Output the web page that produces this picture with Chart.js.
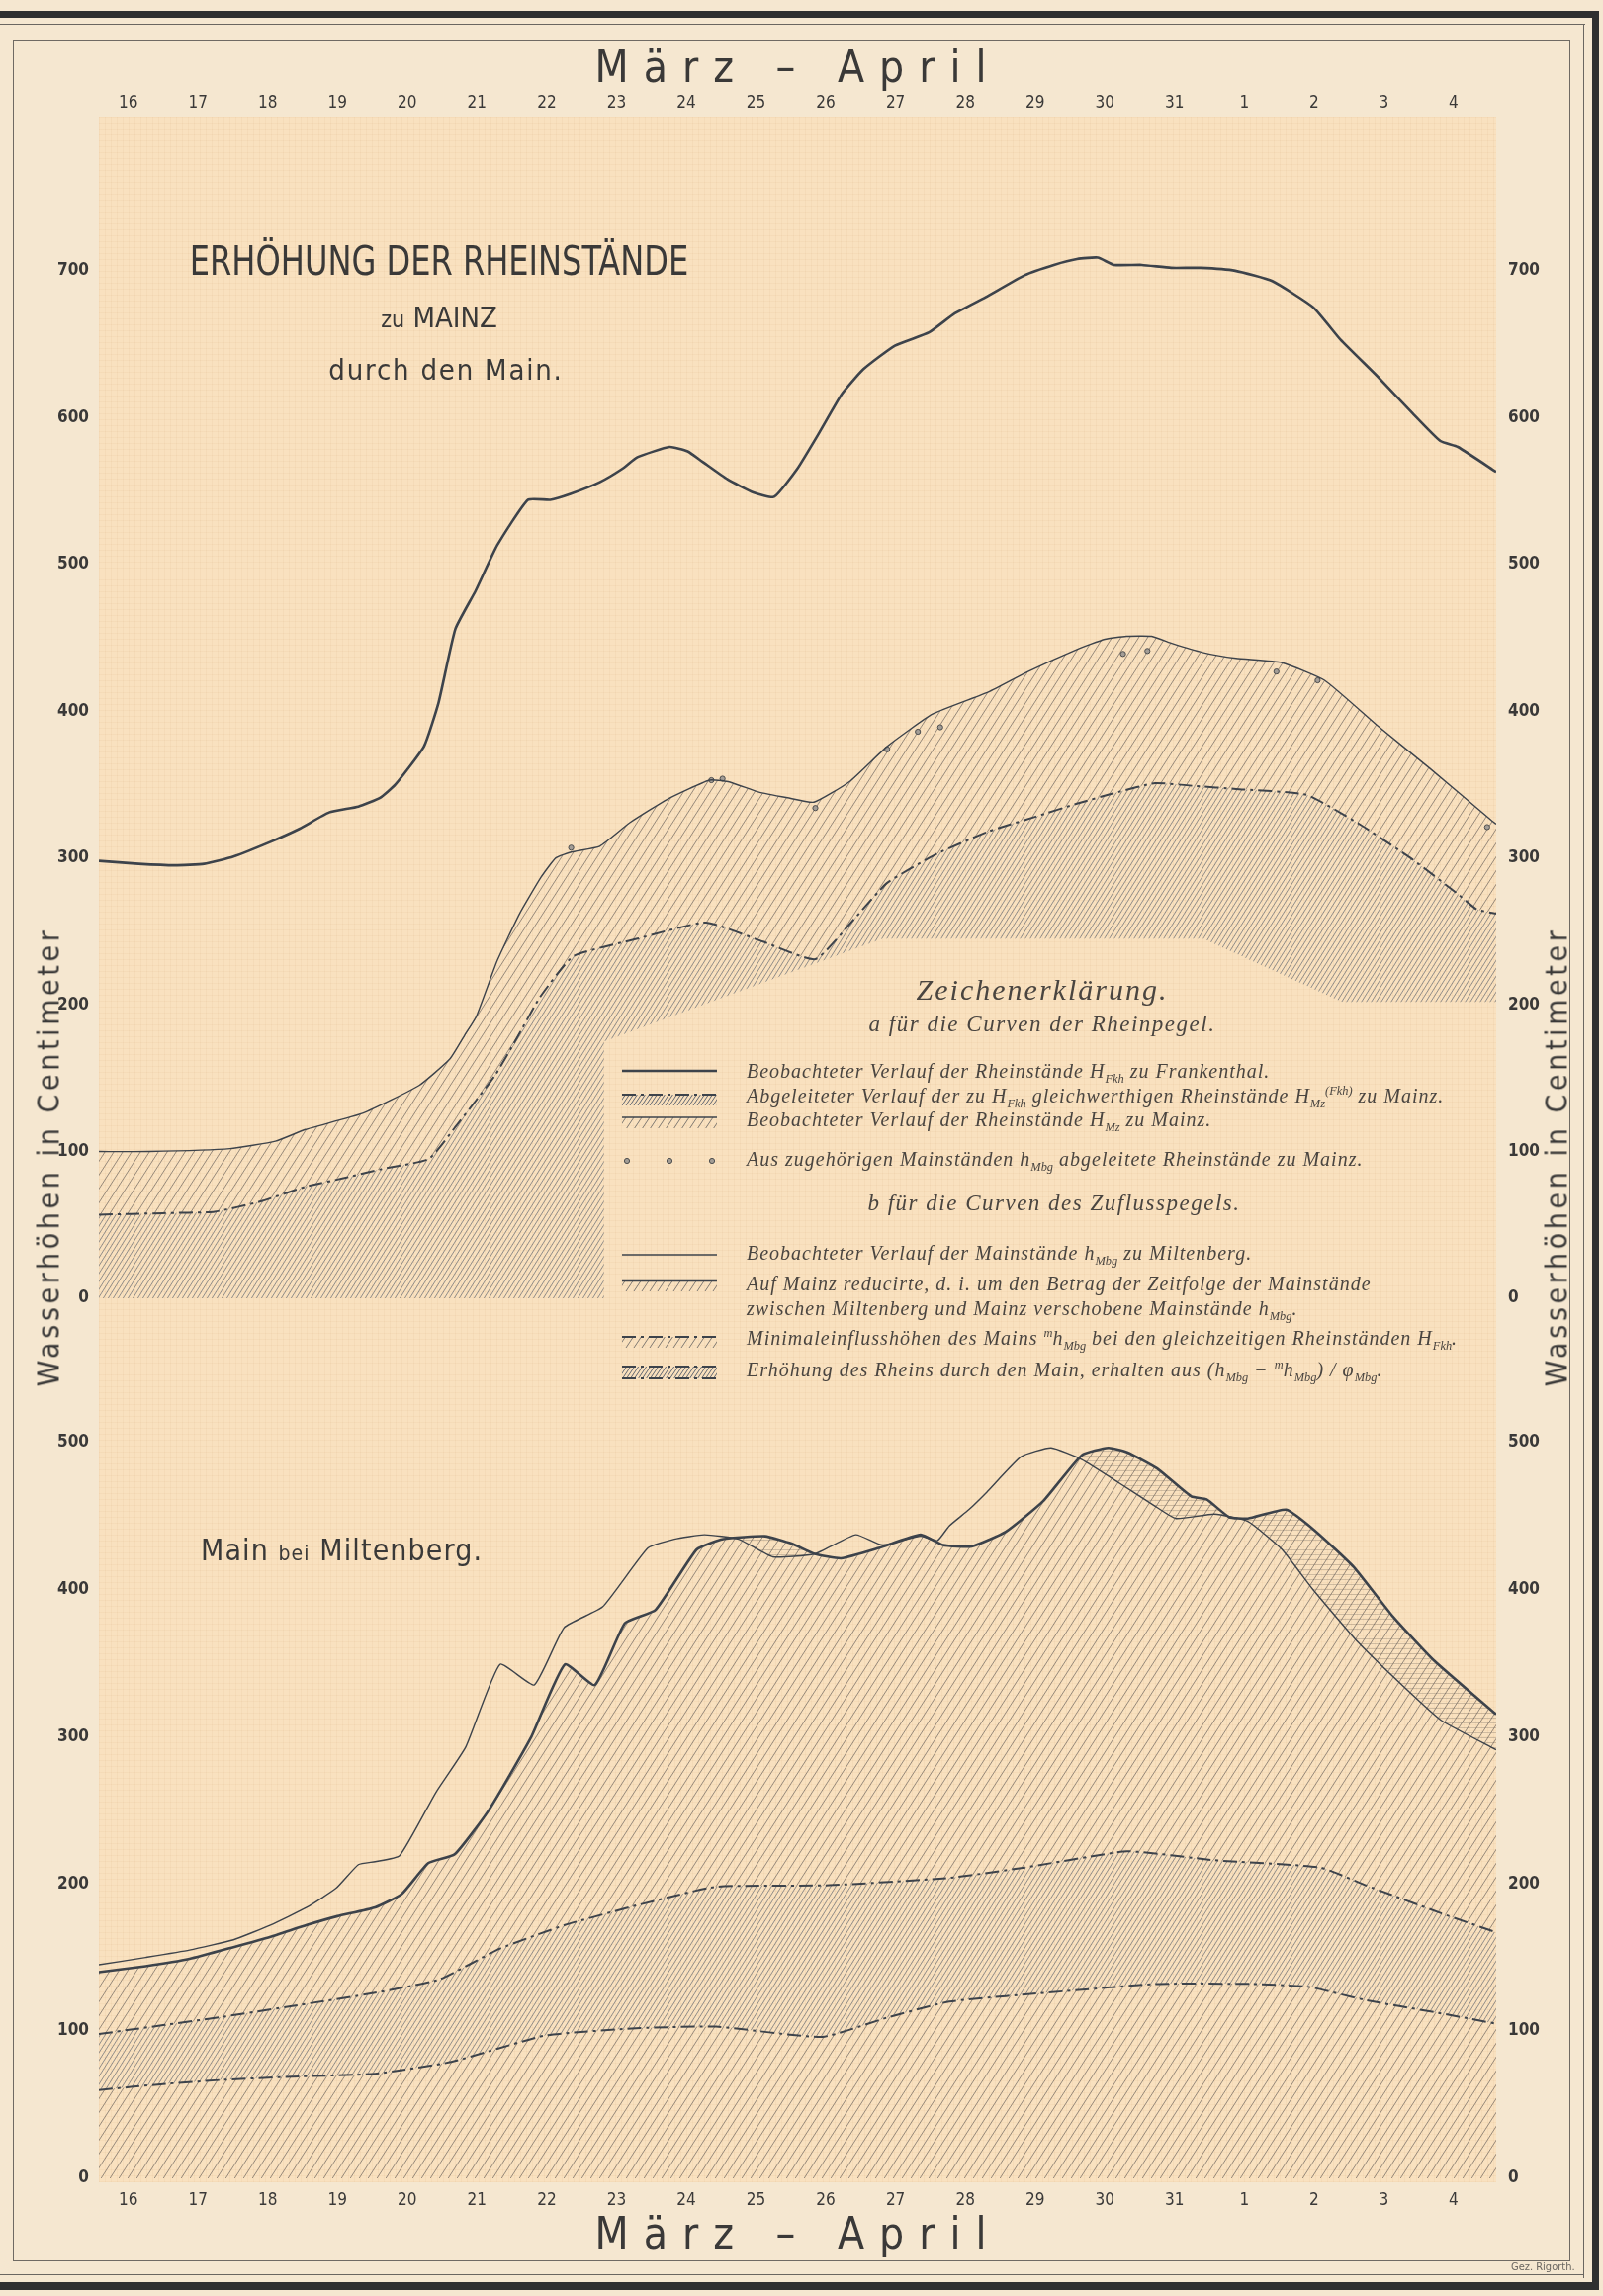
<!DOCTYPE html>
<html lang="de">
<head>
<meta charset="utf-8">
<title>Erhöhung der Rheinstände zu Mainz durch den Main</title>
<script src="https://cdn.jsdelivr.net/npm/chart.js@4.4.0/dist/chart.umd.min.js"></script>
<style>
  html, body { margin: 0; padding: 0; }
  body { width: 1621px; height: 2322px; position: relative; overflow: hidden; background: #f5e7d0; color: #3b3a38;
         font-family: 'DejaVu Sans Condensed', 'DejaVu Sans', sans-serif; font-stretch: condensed; }
  .abs { position: absolute; }
  .c { transform: translate(-50%, -50%); white-space: nowrap; }
  #paper { left: 100px; top: 118px; width: 1413px; height: 2089px; background-color: #f9e1bf;
    background-image: repeating-linear-gradient(0deg, rgba(200,150,100,.08) 0 1px, transparent 1px 6px),
                      repeating-linear-gradient(90deg, rgba(200,150,100,.08) 0 1px, transparent 1px 6px); }
  .rule { background: #2f2f2f; }
  .thin { background: #6a6660; }
  .month { font-size: 44px; letter-spacing: 15px; color: #3a3938; }
  .ytitle { font-size: 30px; letter-spacing: 3.6px; color: #3a3938; }
  .title { color: #3a3938; }
  .leg { font-family: 'Liberation Serif', 'DejaVu Serif', serif; font-style: italic; color: #4a4540; font-stretch: normal; }
  .row { position: absolute; left: 629px; height: 26px; display: flex; align-items: center; white-space: nowrap; font-size: 20px; letter-spacing: 1px; }
  .row svg { flex: none; margin-right: 30px; }
  .row.cont { left: 755px; }
  sub, sup { font-size: 62%; letter-spacing: 0; }
</style>
</head>
<body>
<div id="paper" class="abs"></div>

<!-- frame -->
<div class="abs rule" style="left:0;top:11px;width:1617px;height:7px"></div>
<div class="abs thin" style="left:0;top:24px;width:1603px;height:1px"></div>
<div class="abs rule" style="left:1610px;top:11px;width:7px;height:2305px"></div>
<div class="abs thin" style="left:1601px;top:24px;width:1px;height:2280px"></div>
<div class="abs rule" style="left:0;top:2308px;width:1617px;height:8px"></div>
<div class="abs thin" style="left:0;top:2300px;width:1602px;height:1px"></div>
<div class="abs" style="left:13px;top:40px;width:1575px;height:2247px;border:1.5px solid #6f6a63;box-sizing:border-box"></div>

<div class="abs" style="left:0;top:0;width:1621px;height:1340px"><canvas id="topChart"></canvas></div>
<div class="abs" style="left:0;top:1340px;width:1621px;height:982px"><canvas id="bottomChart"></canvas></div>

<!-- axis titles -->
<div class="abs c month" style="left:807px;top:67px">März – April</div>
<div class="abs c month" style="left:807px;top:2258px">März – April</div>
<div class="abs c ytitle" style="left:49px;top:1170px;transform:translate(-50%,-50%) rotate(-90deg)">Wasserhöhen in Centimeter</div>
<div class="abs c ytitle" style="left:1574px;top:1170px;transform:translate(-50%,-50%) rotate(-90deg)">Wasserhöhen in Centimeter</div>

<!-- titles -->
<div class="abs c title" style="left:444px;top:264px;font-size:41px;transform:translate(-50%,-50%) scaleX(0.87)">ERHÖHUNG DER RHEINSTÄNDE</div>
<div class="abs c title" style="left:444px;top:321px;font-size:29px"><span style="font-size:23px">zu</span> MAINZ</div>
<div class="abs c title" style="left:451px;top:374px;font-size:29px;letter-spacing:1.8px">durch den Main.</div>
<div class="abs title" style="left:203px;top:1550px;font-size:30px;letter-spacing:1.1px;white-space:nowrap">Main <span style="font-size:21px">bei</span> Miltenberg.</div>
<div class="abs" style="left:1528px;top:2286px;font-size:11px;color:#6a6660">Gez. Rigorth.</div>

<!-- legend -->
<svg width="0" height="0" style="position:absolute">
  <defs>
    <pattern id="hl" width="8" height="12" patternUnits="userSpaceOnUse">
      <path d="M-8 12 L0 0 M0 12 L8 0 M8 12 L16 0" stroke="#7d7770" stroke-width="1"/>
    </pattern>
    <pattern id="hd" width="4" height="6" patternUnits="userSpaceOnUse">
      <path d="M-4 6 L0 0 M0 6 L4 0 M4 6 L8 0" stroke="#5f6670" stroke-width="1"/>
    </pattern>
  </defs>
</svg>
<div class="abs c leg" style="left:1054px;top:1001px;font-size:30px;letter-spacing:2px">Zeichenerklärung.</div>
<div class="abs c leg" style="left:1054px;top:1036px;font-size:23px;letter-spacing:1.5px">a für die Curven der Rheinpegel.</div>
<div class="row leg" style="top:1072px">
  <svg width="96" height="20"><line x1="0" y1="8" x2="96" y2="8" stroke="#3d434b" stroke-width="2.6"/></svg>
  <span>Beobachteter Verlauf der Rheinstände H<sub>Fkh</sub> zu Frankenthal.</span></div>
<div class="row leg" style="top:1097px">
  <svg width="96" height="20"><rect x="0" y="7" width="96" height="11" fill="url(#hd)"/><line x1="0" y1="7" x2="96" y2="7" stroke="#3d434b" stroke-width="2" stroke-dasharray="14 5 3 5"/></svg>
  <span>Abgeleiteter Verlauf der zu H<sub>Fkh</sub> gleichwerthigen Rheinstände H<sub>Mz</sub><sup>(Fkh)</sup> zu Mainz.</span></div>
<div class="row leg" style="top:1121px">
  <svg width="96" height="20"><rect x="0" y="6" width="96" height="11" fill="url(#hl)"/><line x1="0" y1="6" x2="96" y2="6" stroke="#3d434b" stroke-width="1.3"/></svg>
  <span>Beobachteter Verlauf der Rheinstände H<sub>Mz</sub> zu Mainz.</span></div>
<div class="row leg" style="top:1161px">
  <svg width="96" height="20"><circle cx="5" cy="10" r="2.6" fill="#a39d96" stroke="#4d4d4d"/><circle cx="48" cy="10" r="2.6" fill="#a39d96" stroke="#4d4d4d"/><circle cx="91" cy="10" r="2.6" fill="#a39d96" stroke="#4d4d4d"/></svg>
  <span>Aus zugehörigen Mainständen h<sub>Mbg</sub> abgeleitete Rheinstände zu Mainz.</span></div>
<div class="abs c leg" style="left:1066px;top:1217px;font-size:23px;letter-spacing:1.5px">b für die Curven des Zuflusspegels.</div>
<div class="row leg" style="top:1256px">
  <svg width="96" height="20"><line x1="0" y1="10" x2="96" y2="10" stroke="#3d434b" stroke-width="1.3"/></svg>
  <span>Beobachteter Verlauf der Mainstände h<sub>Mbg</sub> zu Miltenberg.</span></div>
<div class="row leg" style="top:1285px">
  <svg width="96" height="20"><rect x="0" y="7" width="96" height="11" fill="url(#hl)"/><line x1="0" y1="7" x2="96" y2="7" stroke="#3d434b" stroke-width="2.6"/></svg>
  <span>Auf Mainz reducirte, d. i. um den Betrag der Zeitfolge der Mainstände</span></div>
<div class="row leg cont" style="top:1312px">
  <span>zwischen Miltenberg und Mainz verschobene Mainstände h<sub>Mbg</sub>.</span></div>
<div class="row leg" style="top:1342px">
  <svg width="96" height="20"><rect x="0" y="7" width="96" height="11" fill="url(#hl)"/><line x1="0" y1="7" x2="96" y2="7" stroke="#3d434b" stroke-width="2" stroke-dasharray="14 5 3 5"/></svg>
  <span>Minimaleinflusshöhen des Mains <sup>m</sup>h<sub>Mbg</sub> bei den gleichzeitigen Rheinständen H<sub>Fkh</sub>.</span></div>
<div class="row leg" style="top:1374px">
  <svg width="96" height="20"><rect x="0" y="5" width="96" height="12" fill="url(#hd)"/><line x1="0" y1="5" x2="96" y2="5" stroke="#3d434b" stroke-width="2" stroke-dasharray="14 5 3 5"/><line x1="0" y1="17" x2="96" y2="17" stroke="#3d434b" stroke-width="2" stroke-dasharray="14 5 3 5"/></svg>
  <span>Erhöhung des Rheins durch den Main, erhalten aus (h<sub>Mbg</sub> − <sup>m</sup>h<sub>Mbg</sub>) / φ<sub>Mbg</sub>.</span></div>

<script>
// day positions: 16..31 = März, 32..35 = 1..4 April
const dayTicks = [16, 17, 18, 19, 20, 21, 22, 23, 24, 25, 26, 27, 28, 29, 30, 31, 32, 33, 34, 35];
const dayLabels = ['16', '17', '18', '19', '20', '21', '22', '23', '24', '25', '26', '27', '28', '29', '30', '31', '1', '2', '3', '4'];
const topTicks = [0, 100, 200, 300, 400, 500, 600, 700];
const bottomTicks = [0, 100, 200, 300, 400, 500];

// Rheinpegel (upper chart), [day, cm]
const frankenthal = [[15.58,298],[16.15,296],[16.67,295],[17.09,296],[17.51,301],[18.04,311],[18.46,320],[18.88,331],[19.30,335],[19.61,341],[19.83,350],[20.24,376],[20.45,406],[20.69,456],[20.98,482],[21.29,513],[21.73,544],[22.05,544],[22.34,548],[22.76,556],[23.08,565],[23.30,573],[23.76,580],[24.02,577],[24.23,570],[24.59,558],[24.96,549],[25.26,546],[25.59,565],[25.91,590],[26.23,616],[26.54,633],[26.99,649],[27.48,658],[27.85,671],[28.29,682],[28.85,697],[29.27,704],[29.60,708],[29.90,709],[30.13,704],[30.53,704],[30.95,702],[31.37,702],[31.87,700],[32.40,693],[32.99,675],[33.38,653],[33.91,628],[34.41,603],[34.81,584],[35.06,580],[35.61,563]];
const mainzObserved = [[15.58,100],[16.30,100],[17.46,102],[18.11,107],[18.54,115],[19.36,126],[20.17,145],[20.61,163],[20.82,179],[20.99,192],[21.29,230],[21.61,262],[21.92,287],[22.13,300],[22.35,304],[22.76,308],[23.19,324],[23.73,340],[24.33,353],[24.60,352],[25.03,345],[25.45,341],[25.83,338],[26.34,352],[26.88,376],[27.53,398],[28.33,413],[28.90,427],[29.60,442],[30.00,449],[30.31,451],[30.67,451],[30.97,446],[31.40,440],[31.88,436],[32.54,433],[33.15,421],[33.91,390],[34.66,361],[35.53,326],[35.61,323]];
const mainzFromFkh = [[15.58,57],[16.50,58],[17.24,59],[17.90,66],[18.54,76],[19.10,82],[19.63,88],[20.31,95],[20.71,118],[21.26,152],[21.58,178],[21.90,205],[22.38,233],[23.30,245],[24.28,256],[25.10,243],[25.85,231],[26.40,258],[26.88,283],[27.60,303],[28.33,318],[29.00,328],[29.60,337],[30.20,345],[30.72,351],[31.30,349],[31.88,347],[32.89,343],[33.65,323],[34.41,299],[35.07,275],[35.33,265],[35.61,262]];
const mainzFromMbg = [[22.35,307],[24.36,353],[24.52,354],[25.85,334],[26.88,374],[27.32,386],[27.64,389],[30.26,439],[30.61,441],[32.46,427],[33.05,421],[35.48,321]];

// Zuflusspegel Miltenberg (lower chart), [day, cm]
const mbgObserved = [[15.58,145],[16.25,150],[16.88,155],[17.51,162],[18.04,172],[18.56,184],[18.98,197],[19.30,213],[19.54,215],[19.89,219],[20.41,262],[20.84,293],[21.33,349],[21.82,335],[22.25,374],[22.80,388],[23.45,428],[23.83,434],[24.26,437],[24.75,434],[25.24,422],[25.84,424],[26.43,437],[26.81,430],[27.36,436],[27.60,433],[27.77,443],[28.05,454],[28.31,466],[28.80,490],[29.23,496],[29.67,488],[30.21,472],[30.70,457],[31.02,448],[31.57,451],[32.05,446],[32.54,427],[32.98,400],[33.63,364],[34.28,334],[34.82,311],[35.61,291]];
const mbgShifted = [[15.58,140],[16.25,144],[16.88,149],[17.51,157],[18.04,164],[18.56,172],[19.00,178],[19.54,184],[19.92,193],[20.30,214],[20.68,220],[21.17,250],[21.77,299],[22.26,349],[22.69,335],[23.12,377],[23.56,386],[24.15,427],[24.53,434],[25.13,436],[25.51,431],[25.84,424],[26.22,421],[26.76,428],[27.36,437],[27.68,430],[28.09,429],[28.58,439],[29.12,460],[29.67,491],[30.05,496],[30.32,493],[30.75,482],[31.24,463],[31.46,461],[31.78,449],[32.05,448],[32.60,454],[33.03,439],[33.57,415],[34.12,382],[34.71,352],[35.61,315]];
const mbgMinimal = [[15.58,98],[16.50,104],[17.40,110],[18.35,117],[19.54,126],[20.46,135],[21.33,156],[22.26,172],[23.34,186],[24.43,198],[26.05,199],[27.77,204],[28.85,211],[30.32,222],[31.57,216],[33.09,211],[33.74,199],[34.82,180],[35.61,167]];
const mbgLower = [[15.58,60],[16.50,64],[17.40,67],[18.35,69],[19.54,71],[20.63,79],[21.98,97],[23.34,102],[24.43,103],[25.95,96],[26.87,109],[27.77,120],[29.40,127],[30.75,132],[32.11,132],[32.92,130],[33.74,121],[34.82,112],[35.61,105]];

// outline of the blank legend field inside the upper chart, [day, cm]
const legendFieldT = [22.82, 22.82, 26.81, 31.41, 33.40, 35.61, 35.61];
const legendFieldV = [0, 175, 245, 245, 202, 202, 0];

const ink = '#3d434b';
const tickFont = "'DejaVu Sans Condensed', 'DejaVu Sans', sans-serif";

function hatch(w, h, color, lw) {
  const c = document.createElement('canvas');
  c.width = w; c.height = h;
  const g = c.getContext('2d');
  g.strokeStyle = color; g.lineWidth = lw;
  g.beginPath();
  for (const dx of [-w, 0, w]) { g.moveTo(dx, h); g.lineTo(dx + w, 0); }
  g.stroke();
  return g.createPattern(c, 'repeat');
}
function stripes(color) {
  const c = document.createElement('canvas');
  c.width = 4; c.height = 5;
  const g = c.getContext('2d');
  g.fillStyle = color; g.fillRect(0, 2, 4, 1);
  return g.createPattern(c, 'repeat');
}
const lightHatch = hatch(9, 14, 'rgba(108,100,92,0.7)', 1);
const denseHatch = hatch(5, 8, 'rgba(88,96,108,0.65)', 1);
const crossStripes = stripes('rgba(110,100,90,0.3)');

function series(pairs, extra) {
  return Object.assign({
    data: pairs.map(p => ({ x: p[0], y: p[1] })),
    borderColor: ink, borderWidth: 1.4, pointRadius: 0, tension: 0.15, fill: false
  }, extra);
}

function xAxis(pos, h, pad) {
  return {
    type: 'linear', position: pos, min: 15.58, max: 35.61,
    afterBuildTicks: s => { s.ticks = dayTicks.map(v => ({ value: v })); },
    afterFit: s => { s.height = h; },
    ticks: { callback: v => dayLabels[dayTicks.indexOf(v)], color: '#3a3938', padding: pad,
             font: { family: tickFont, size: 17 }, maxRotation: 0, autoSkip: false },
    grid: { display: false, drawTicks: false }, border: { display: false }
  };
}
function yAxis(pos, w, max, ticks) {
  return {
    type: 'linear', position: pos, min: 0, max: max,
    afterBuildTicks: s => { s.ticks = ticks.map(v => ({ value: v })); },
    afterFit: s => { s.width = w; },
    ticks: { color: '#3a3938', padding: pos === 'left' ? 10 : 12,
             font: { family: tickFont, size: 17, weight: 'bold' } },
    grid: { display: false, drawTicks: false }, border: { display: false }
  };
}

// keep the hatching out of the legend field
const legendField = {
  id: 'legendField',
  beforeDraw(chart) {
    const { ctx, width, height, scales } = chart;
    ctx.save();
    ctx.beginPath();
    ctx.rect(0, 0, width, height);
    legendFieldT.forEach((t, i) => {
      const px = scales.x.getPixelForValue(t), py = scales.y.getPixelForValue(legendFieldV[i]);
      if (i === 0) ctx.moveTo(px, py); else ctx.lineTo(px, py);
    });
    ctx.closePath();
    ctx.clip('evenodd');
  },
  afterDraw(chart) { chart.ctx.restore(); }
};

new Chart(document.getElementById('topChart'), {
  type: 'line',
  data: {
    datasets: [
      series(frankenthal, { label: 'H Fkh', borderWidth: 2.6 }),
      series(mainzObserved, { label: 'H Mz', fill: { target: 2, above: lightHatch, below: lightHatch } }),
      series(mainzFromFkh, { label: 'H Mz (Fkh)', borderWidth: 2, borderDash: [14, 5, 3, 5],
                             fill: { target: 'origin', above: denseHatch } }),
      series(mainzFromMbg, { label: 'aus h Mbg', showLine: false, pointRadius: 2.6,
                             pointBackgroundColor: '#a39d96', pointBorderColor: '#4d4d4d', pointBorderWidth: 1 })
    ]
  },
  options: {
    responsive: true, maintainAspectRatio: false, animation: false,
    layout: { padding: { bottom: 27 } },
    plugins: { legend: { display: false }, tooltip: { enabled: false }, filler: { drawTime: 'beforeDatasetsDraw' } },
    scales: {
      x: xAxis('top', 118, 3),
      y: yAxis('left', 100, 805, topTicks),
      y2: yAxis('right', 108, 805, topTicks)
    }
  },
  plugins: [legendField]
});

new Chart(document.getElementById('bottomChart'), {
  type: 'line',
  data: {
    datasets: [
      series(mbgObserved, { label: 'h Mbg' }),
      series(mbgShifted, { label: 'h Mbg verschoben', borderWidth: 2.6, fill: { target: 2, above: lightHatch, below: lightHatch } }),
      series(mbgMinimal, { label: 'm h Mbg', borderWidth: 2, borderDash: [14, 5, 3, 5], fill: { target: 3, above: denseHatch, below: denseHatch } }),
      series(mbgLower, { label: 'Erhöhung', borderWidth: 2, borderDash: [14, 5, 3, 5], fill: { target: 'origin', above: lightHatch } }),
      series(mbgShifted, { label: 'Differenz', borderWidth: 0, fill: { target: 0, above: crossStripes, below: 'rgba(0,0,0,0)' } })
    ]
  },
  options: {
    responsive: true, maintainAspectRatio: false, animation: false,
    layout: { padding: { top: 80 } },
    plugins: { legend: { display: false }, tooltip: { enabled: false }, filler: { drawTime: 'beforeDatasetsDraw' } },
    scales: {
      x: xAxis('bottom', 119, 12),
      y: yAxis('left', 100, 525.7, bottomTicks),
      y2: yAxis('right', 108, 525.7, bottomTicks)
    }
  }
});
</script>
</body>
</html>
